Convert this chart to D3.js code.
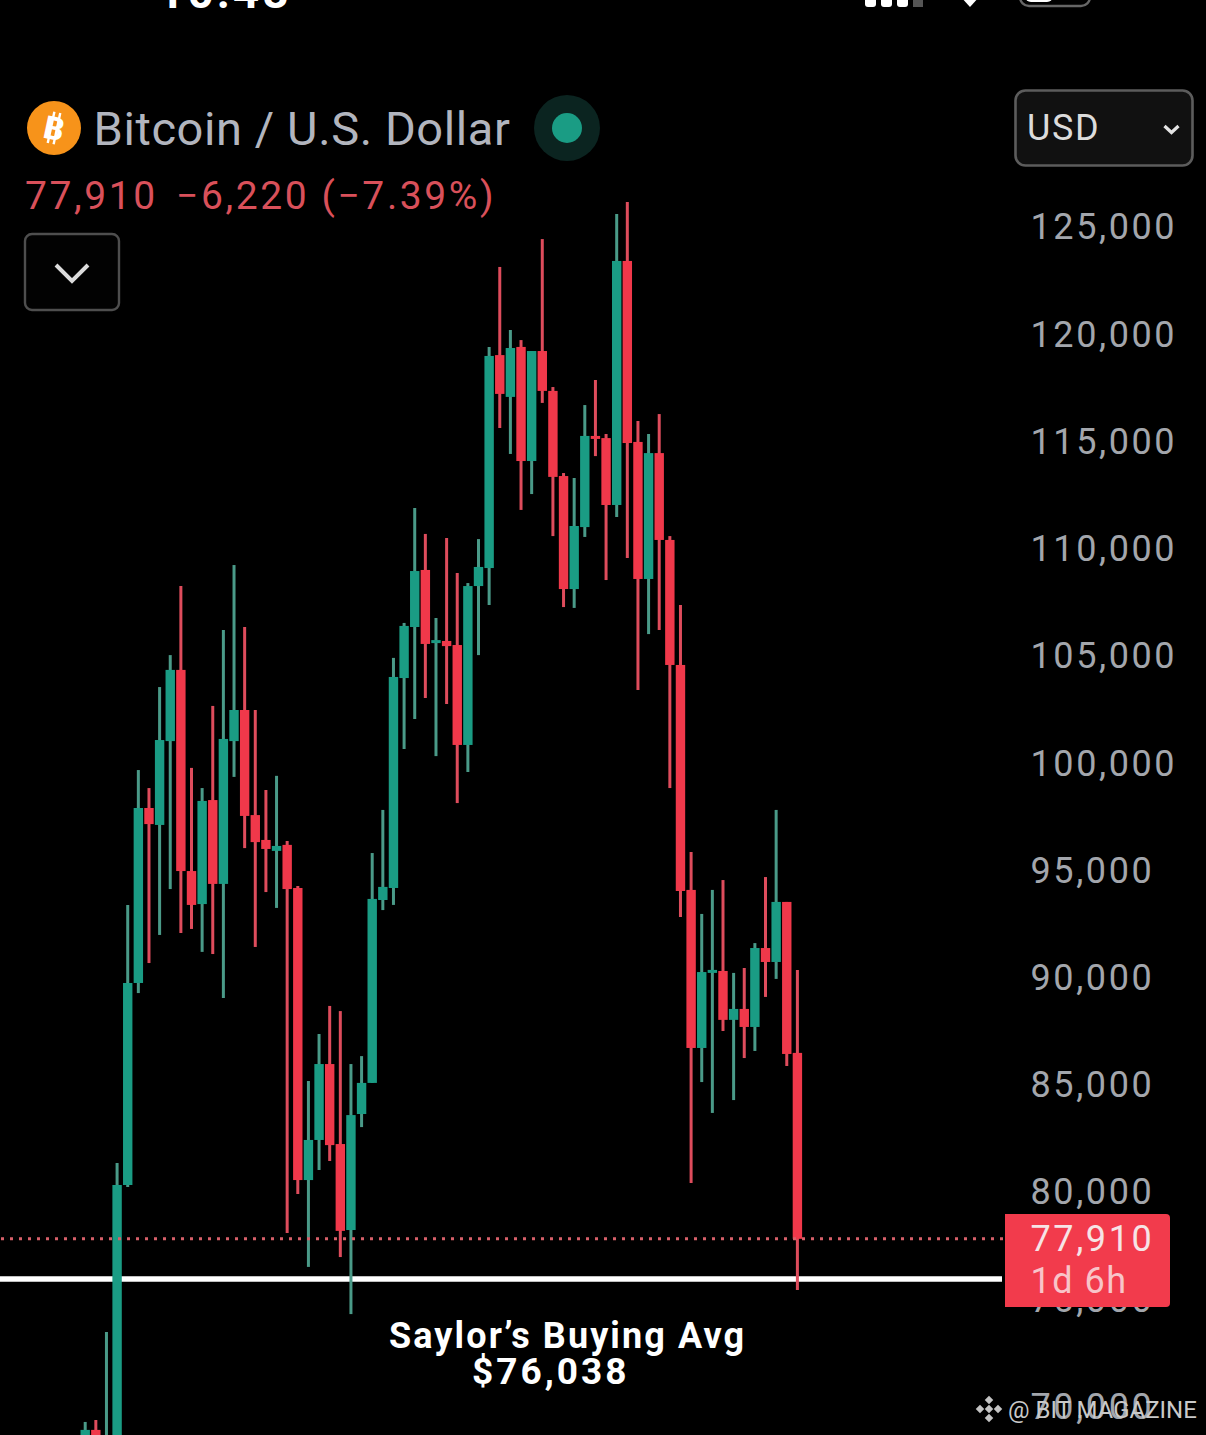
<!DOCTYPE html>
<html>
<head>
<meta charset="utf-8">
<script src="https://cdnjs.cloudflare.com/ajax/libs/d3/7.8.5/d3.min.js"></script>
<style>
html, body { margin: 0; padding: 0; background: #000; overflow: hidden; }
text { font-family: Roboto, "Noto Sans", sans-serif; }
</style>
</head>
<body>
<div id="chart"></div>
<script>
// weekly candles, left to right
var opens = [65730,69000,64800,67130,80420,89840,98000,97210,101120,104440,
  95060,93520,98370,94460,101120,102570,97670,96510,96000,96280,
  94270,80650,82520,86060,82330,78320,83730,85180,93710,94270,
  104060,106440,109100,105690,105790,105600,100940,108350,109190,119120,
  117170,119500,114180,119310,117450,113480,108210,111100,115350,115250,
  112130,123510,115070,108680,114550,110500,104670,94180,86810,90310,
  90400,88120,88630,87790,91470,90820,93620,86580];
var highs = [69370,69460,73565,81450,93480,99770,98930,103640,105130,108350,
  99870,98930,102760,106300,109330,106440,102570,98840,99500,96460,
  94360,85270,87460,88770,88530,86060,86430,95900,97910,105000,
  106630,111990,110780,106860,110590,108960,108490,110540,119500,123230,
  120290,119820,119310,124530,117630,113620,113390,116790,117960,115440,
  125700,126260,116050,115440,116370,110680,107470,95950,93060,94180,
  94640,90310,90540,91700,94780,97910,93620,90450];
var lows = [65260,65260,63860,66200,80330,89370,90770,92080,94220,92170,
  92360,91290,91190,89140,99450,96130,91520,94080,93340,78180,
  80000,76600,81120,81540,77060,74400,83120,85180,93240,93480,
  100750,102150,103130,100420,102850,98230,99680,105130,107470,115720,
  114510,111900,112640,116890,110680,107370,107330,110640,114410,108630,
  111570,109660,103500,106110,106300,98930,92920,80510,85220,83780,
  87600,84380,86340,86670,89190,90030,85970,75520];
var closes = [69000,65730,67130,80420,89840,98000,97250,101170,104440,95060,
  93480,98330,94460,101220,102570,97630,96410,96090,96230,94220,
  80650,82520,86060,82280,78280,83680,85180,93760,94320,104110,
  106490,109050,105650,105830,105550,100940,108350,109240,119080,117310,
  119450,114180,119310,117450,113440,108210,111150,115350,115210,112130,
  123510,115020,108680,114550,110500,104670,94130,86810,90350,90450,
  88120,88630,87790,91470,90820,93620,86530,77910];

var priceTicks = [125000,120000,115000,110000,105000,100000,95000,90000,85000,80000,75000,70000];
var lastPrice = 77910;
var saylorAvg = 76038;
var countdown = "1d 6h";

var width = 1206, height = 1435;
var green = "#1a9c84", red = "#f0384a";
var greenWick = "#4a9a88", redWick = "#de4c5c";

var svg = d3.select("#chart").append("svg")
  .attr("width", width)
  .attr("height", height)
  .style("display", "block");

svg.append("rect").attr("width", width).attr("height", height).attr("fill", "#000");

var y = d3.scaleLinear().domain([125000, 80000]).range([229, 1194]);
var x = d3.scalePoint().domain(d3.range(opens.length)).range([85.2, 797.4]);
var candles = d3.range(opens.length);

function upColor(i, a, b) { return closes[i] >= opens[i] ? a : b; }

// price axis
var axis = d3.axisRight(y)
  .tickValues(priceTicks)
  .tickFormat(d3.format(","))
  .tickSize(0)
  .tickPadding(0);

var axisG = svg.append("g")
  .attr("transform", "translate(1030.5,-1.6)")
  .call(axis);
axisG.select(".domain").remove();
axisG.selectAll("text")
  .attr("fill", "#a3a6ac")
  .style("font-size", "36px")
  .style("letter-spacing", "2.6px");

// Saylor line goes under the candles
svg.append("line")
  .attr("x1", 0).attr("x2", 1002)
  .attr("y1", y(saylorAvg)).attr("y2", y(saylorAvg))
  .attr("stroke", "#fff")
  .attr("stroke-width", 5.6);

var g = svg.append("g");

g.selectAll("line.wick")
  .data(candles)
  .enter().append("line")
  .attr("class", "wick")
  .attr("x1", function(i) { return x(i); })
  .attr("x2", function(i) { return x(i); })
  .attr("y1", function(i) { return y(highs[i]); })
  .attr("y2", function(i) { return y(lows[i]); })
  .attr("stroke", function(i) { return upColor(i, greenWick, redWick); })
  .attr("stroke-width", 3);

g.selectAll("rect.body")
  .data(candles)
  .enter().append("rect")
  .attr("class", "body")
  .attr("x", function(i) { return x(i) - 4.7; })
  .attr("width", 9.4)
  .attr("y", function(i) { return y(Math.max(opens[i], closes[i])); })
  .attr("height", function(i) { return Math.max(2, Math.abs(y(opens[i]) - y(closes[i]))); })
  .attr("fill", function(i) { return upColor(i, green, red); });

// last price dotted line
svg.append("line")
  .attr("x1", 1).attr("x2", 1004)
  .attr("y1", y(lastPrice)).attr("y2", y(lastPrice))
  .attr("stroke", "#d8606a")
  .attr("stroke-width", 3)
  .attr("stroke-dasharray", "3 6");

// last price tag
svg.append("path")
  .attr("d", "M1005,1214H1166a4,4 0 0 1 4,4V1303a4,4 0 0 1 -4,4H1005Z")
  .attr("fill", "#f23b4c");
svg.append("text")
  .attr("x", 1030.5).attr("y", 1250.5)
  .attr("fill", "#f6e4e6")
  .style("font-size", "36px")
  .style("letter-spacing", "2.6px")
  .text(d3.format(",")(lastPrice));
svg.append("text")
  .attr("x", 1030.5).attr("y", 1292.5)
  .attr("fill", "#f8c4c9")
  .style("font-size", "36px")
  .style("letter-spacing", "1.5px")
  .text(countdown);

// annotation
svg.append("text")
  .attr("x", 389).attr("y", 1348)
  .attr("fill", "#fff")
  .style("font-size", "36px")
  .style("font-weight", 700)
  .style("letter-spacing", "2.1px")
  .text("Saylor\u2019s Buying Avg");
svg.append("text")
  .attr("x", 472).attr("y", 1384)
  .attr("fill", "#fff")
  .style("font-size", "37px")
  .style("font-weight", 700)
  .style("letter-spacing", "3px")
  .text("$" + d3.format(",")(saylorAvg));

// header
svg.append("circle").attr("cx", 54).attr("cy", 128).attr("r", 27).attr("fill", "#f7931a");
var btc = svg.append("g").attr("transform", "translate(54,128) rotate(12)");
btc.append("text")
  .attr("text-anchor", "middle")
  .attr("y", 11.5)
  .attr("fill", "#fff")
  .style("font-size", "32px")
  .style("font-weight", 700)
  .text("B");
[-3, 3].forEach(function(dx) {
  btc.append("line").attr("x1", dx).attr("x2", dx).attr("y1", -16).attr("y2", 16)
    .attr("stroke", "#fff").attr("stroke-width", 2.4);
});

svg.append("text")
  .attr("x", 93.5).attr("y", 145)
  .attr("fill", "#b2b5be")
  .style("font-size", "47px")
  .style("letter-spacing", "0.6px")
  .text("Bitcoin / U.S. Dollar");

svg.append("circle").attr("cx", 567).attr("cy", 128).attr("r", 33).attr("fill", "#0b2420");
svg.append("circle").attr("cx", 567).attr("cy", 128).attr("r", 15).attr("fill", green);

svg.append("text")
  .attr("x", 25).attr("y", 209)
  .attr("fill", "#d9505a")
  .style("font-size", "39px")
  .style("letter-spacing", "2.6px")
  .text(d3.format(",")(lastPrice));
svg.append("text")
  .attr("x", 176).attr("y", 209)
  .attr("fill", "#d9505a")
  .style("font-size", "39px")
  .style("letter-spacing", "2.6px")
  .text("\u22126,220 (\u22127.39%)");

// collapse button
svg.append("rect")
  .attr("x", 25).attr("y", 234).attr("width", 94).attr("height", 76).attr("rx", 7)
  .attr("fill", "#020202").attr("stroke", "#4e4e4e").attr("stroke-width", 2.4);
svg.append("path")
  .attr("d", "M56,265L72,281L88,265")
  .attr("fill", "none").attr("stroke", "#dcdcdc").attr("stroke-width", 4);

// currency select
svg.append("rect")
  .attr("x", 1015.5).attr("y", 90.5).attr("width", 177).attr("height", 75).attr("rx", 10)
  .attr("fill", "#111").attr("stroke", "#5c5c5c").attr("stroke-width", 2.6);
svg.append("text")
  .attr("x", 1027).attr("y", 140)
  .attr("fill", "#dcdcdc")
  .style("font-size", "36px")
  .style("letter-spacing", "1.6px")
  .text("USD");
svg.append("path")
  .attr("d", "M1164.5,126L1171.5,132.5L1178.5,126")
  .attr("fill", "none").attr("stroke", "#e4e4e4").attr("stroke-width", 3.2);

// phone status bar, cut off at the top of the screenshot
svg.append("text")
  .attr("x", 158).attr("y", 8)
  .attr("fill", "#fff")
  .style("font-size", "46px")
  .style("font-weight", 700)
  .style("letter-spacing", "3px")
  .text("10:48");
[865, 881, 897].forEach(function(bx) {
  svg.append("rect").attr("x", bx).attr("y", -8).attr("width", 11).attr("height", 15).attr("rx", 3).attr("fill", "#fff");
});
svg.append("rect").attr("x", 913).attr("y", -8).attr("width", 10).attr("height", 15).attr("fill", "#555");
svg.append("path").attr("d", "M960,-4H980L970,7Z").attr("fill", "#fff");
svg.append("rect")
  .attr("x", 1020).attr("y", -24).attr("width", 70).attr("height", 30).attr("rx", 9)
  .attr("fill", "none").attr("stroke", "#666").attr("stroke-width", 2.4);
svg.append("rect")
  .attr("x", 1025).attr("y", -20).attr("width", 28).attr("height", 22).attr("rx", 6)
  .attr("fill", "#fff");

// watermark
var wm = svg.append("g").attr("transform", "translate(989,1409)").attr("fill", "#c4c4c4");
[[0, -9], [-9, 0], [9, 0], [0, 9], [0, 0]].forEach(function(p) {
  wm.append("rect")
    .attr("x", -3).attr("y", -3).attr("width", 6).attr("height", 6)
    .attr("transform", "translate(" + p[0] + "," + p[1] + ") rotate(45)");
});
svg.append("text")
  .attr("x", 1008).attr("y", 1418)
  .attr("fill", "#c9c9c9")
  .style("font-size", "24px")
  .text("@ BIT MAGAZINE");
</script>
</body>
</html>
